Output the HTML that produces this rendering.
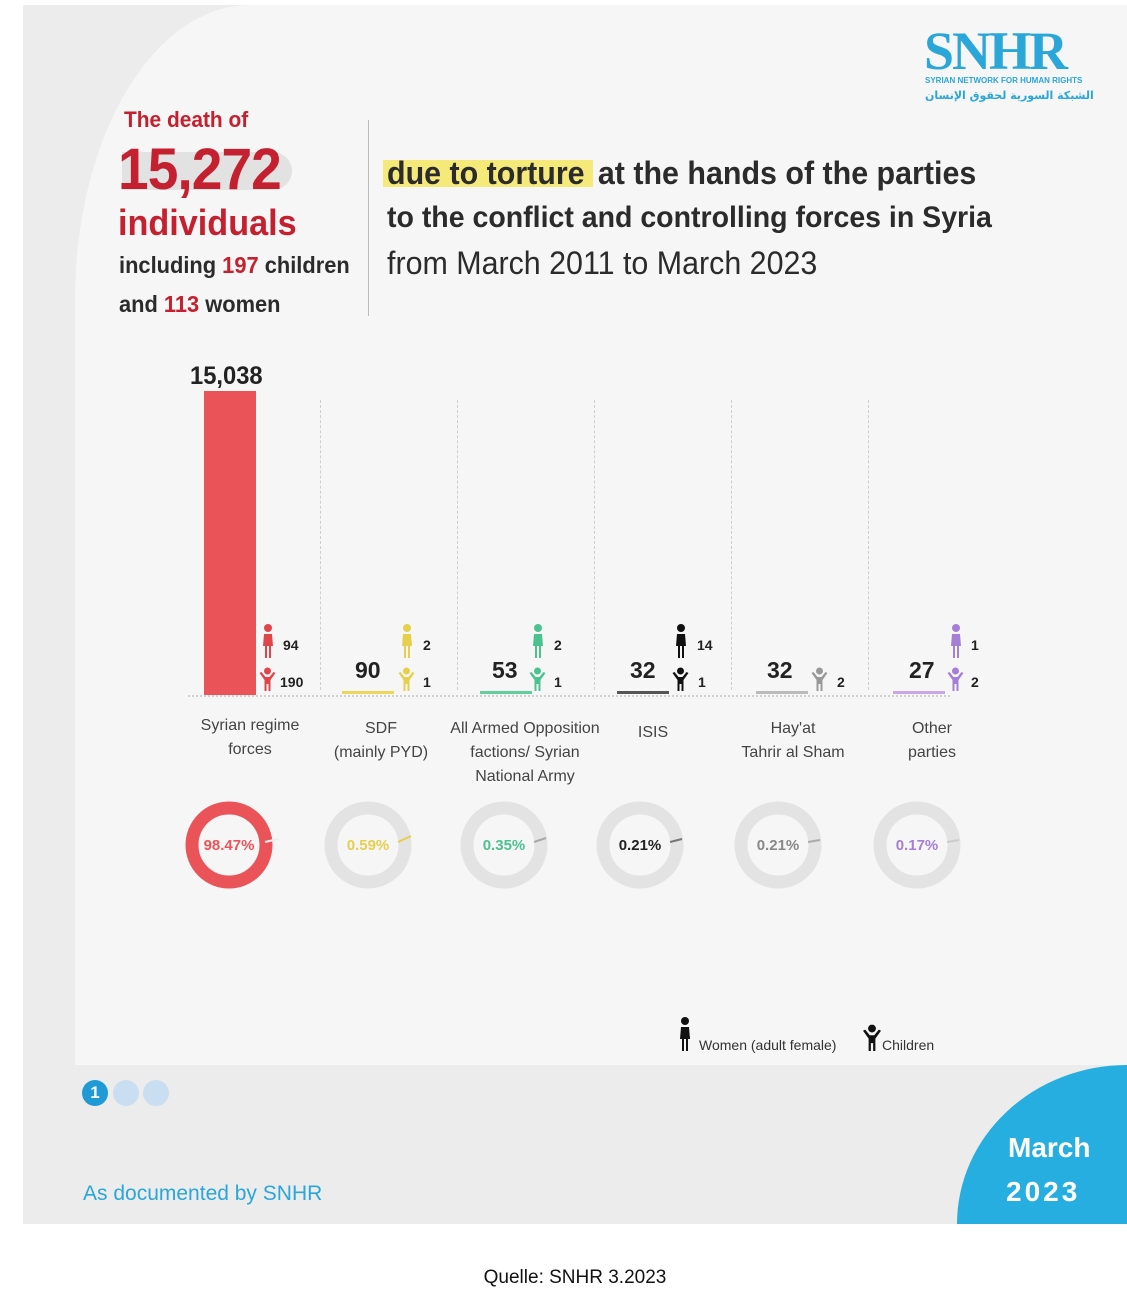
<!DOCTYPE html>
<html><head><meta charset="utf-8"><style>
body{margin:0;width:1127px;height:1293px;background:#fff;position:relative;overflow:hidden;font-family:"Liberation Sans",sans-serif;}
.a{position:absolute;}
.card{left:23px;top:5px;width:1104px;height:1219px;background:#ececec;}
.inner{left:75px;top:5px;width:1052px;height:1060px;background:#f6f6f6;border-top-left-radius:175px 295px;}
.t{position:absolute;white-space:nowrap;}
.red{color:#c4202f}
.dk{color:#2b2b2b}
.sep{position:absolute;top:400px;height:290px;border-left:1px dashed #cfcfcf;}
.lbl{position:absolute;text-align:center;font-size:16px;color:#444;line-height:24px;width:170px;}
.num{position:absolute;font-size:23px;font-weight:bold;color:#222;}
.sm{position:absolute;font-size:14px;font-weight:bold;color:#222;}
.nar{transform-origin:0 0;transform:scaleX(0.95);}
</style></head><body>
<svg width="0" height="0" style="position:absolute"><defs>
<symbol id="w" viewBox="0 0 12 34"><circle cx="6" cy="4" r="4"/><path d="M2 10h8l1 12h-2v12h-2v-12h-2v12h-2v-12h-2z"/></symbol>
<symbol id="c" viewBox="0 0 16 24"><circle cx="8" cy="4" r="3.5"/><path d="M0 6l2-1 4 5h4l4-5 2 1-5 7v11h-2v-7h-2v7h-2v-11z"/></symbol>
</defs></svg>
<div class="a card"></div>
<div class="a inner"></div>
<div class="a" style="left:957px;top:1065px;width:170px;height:159px;background:#27aee0;border-top-left-radius:170px 159px;"></div>
<div class="t" style="left:1008px;top:1132px;font-size:28px;font-weight:bold;color:#fff">March</div>
<div class="t" style="left:1006px;top:1176px;font-size:28px;font-weight:bold;color:#fff;letter-spacing:3px">2023</div>

<div class="t" style="left:924px;top:20px;font-size:54px;font-weight:bold;color:#2aa6d8;font-family:'Liberation Serif',serif;letter-spacing:-2px">SNHR</div>
<div class="t" style="left:925px;top:76px;font-size:8px;font-weight:bold;color:#2aa6d8">SYRIAN NETWORK FOR HUMAN RIGHTS</div>
<div class="t" style="left:925px;top:89px;font-size:11px;font-weight:bold;color:#2aa6d8;font-family:'DejaVu Sans',sans-serif">الشبكة السورية لحقوق الإنسان</div>

<div class="t red nar" style="left:124px;top:107px;font-size:22px;font-weight:bold">The death of</div>
<div class="a" style="left:122px;top:152px;width:170px;height:38px;background:#e2e2e2;border-radius:0 20px 20px 0"></div>
<div class="t red nar" style="left:118px;top:136px;font-size:58px;font-weight:bold;letter-spacing:-1px">15,272</div>
<div class="t red nar" style="left:118px;top:202px;font-size:36px;font-weight:bold">individuals</div>
<div class="t dk nar" style="left:119px;top:252px;font-size:23px;font-weight:bold">including <span class="red">197</span> children</div>
<div class="t dk nar" style="left:119px;top:291px;font-size:23px;font-weight:bold">and <span class="red">113</span> women</div>
<div class="a" style="left:368px;top:120px;width:1px;height:196px;background:#bbb"></div>
<div class="a" style="left:383px;top:160px;width:210px;height:27px;background:#f5e97a"></div>
<div class="t dk nar" style="left:387px;top:155px;font-size:32px;font-weight:bold">due to torture<span style="margin-left:14px">at the hands of the parties</span></div>
<div class="t dk nar" style="left:387px;top:201px;font-size:30px;font-weight:bold">to the conflict and controlling forces in Syria</div>
<div class="t dk nar" style="left:387px;top:245px;font-size:32px">from March 2011 to March 2023</div>

<div class="sep" style="left:320px"></div><div class="sep" style="left:457px"></div><div class="sep" style="left:594px"></div><div class="sep" style="left:731px"></div><div class="sep" style="left:868px"></div>
<div class="a" style="left:188px;top:695px;width:762px;border-top:2px dotted #d0d0d0"></div>

<div class="t nar" style="left:190px;top:362px;font-size:25px;font-weight:bold;color:#222">15,038</div>
<div class="a" style="left:204px;top:391px;width:52px;height:304px;background:#ea5459"></div>

<svg class="a" style="left:0;top:0" width="1127" height="1293">
<g fill="#e0454b"><use href="#w" x="262" y="624" width="12" height="34"/><use href="#c" x="259" y="667" width="17" height="24"/></g>
<g fill="#e5cf4d"><use href="#w" x="401" y="624" width="12" height="34"/><use href="#c" x="398" y="667" width="17" height="24"/></g>
<g fill="#4cc290"><use href="#w" x="532" y="624" width="12" height="34"/><use href="#c" x="529" y="667" width="17" height="24"/></g>
<g fill="#111"><use href="#w" x="675" y="624" width="12" height="34"/><use href="#c" x="672" y="667" width="17" height="24"/></g>
<g fill="#999"><use href="#c" x="811" y="667" width="17" height="24"/></g>
<g fill="#a57fd6"><use href="#w" x="950" y="624" width="12" height="34"/><use href="#c" x="947" y="667" width="17" height="24"/></g>
<g fill="#111"><use href="#w" x="679" y="1016" width="12" height="36"/><use href="#c" x="863" y="1024" width="18" height="27"/></g>
<g fill="none" stroke-width="13">
<circle cx="229" cy="845" r="37" stroke="#ea5459"/>
<circle cx="368" cy="845" r="37" stroke="#e3e3e3"/>
<circle cx="504" cy="845" r="37" stroke="#e3e3e3"/>
<circle cx="640" cy="845" r="37" stroke="#e3e3e3"/>
<circle cx="778" cy="845" r="37" stroke="#e3e3e3"/>
<circle cx="917" cy="845" r="37" stroke="#e3e3e3"/>
</g>
<g stroke-width="2">
<line x1="265" y1="842" x2="278" y2="839" stroke="#eee"/>
<line x1="398" y1="842" x2="411" y2="836" stroke="#e5cf4d"/>
<line x1="534" y1="842" x2="546" y2="838" stroke="#aaa"/>
<line x1="670" y1="842" x2="682" y2="839" stroke="#777"/>
<line x1="808" y1="842" x2="820" y2="840" stroke="#aaa"/>
<line x1="947" y1="842" x2="959" y2="840" stroke="#ccc"/>
</g>
<g font-family="Liberation Sans" font-size="15" font-weight="bold" text-anchor="middle">
<text x="229" y="850" fill="#ea5459">98.47%</text>
<text x="368" y="850" fill="#e5cf4d">0.59%</text>
<text x="504" y="850" fill="#4cc290">0.35%</text>
<text x="640" y="850" fill="#222">0.21%</text>
<text x="778" y="850" fill="#888">0.21%</text>
<text x="917" y="850" fill="#a57fd6">0.17%</text>
</g>
</svg>

<div class="sm" style="left:283px;top:637px">94</div>
<div class="sm" style="left:280px;top:674px">190</div>
<div class="a" style="left:342px;top:691px;width:52px;height:3px;background:#ecd75a"></div>
<div class="num" style="left:355px;top:657px">90</div>
<div class="sm" style="left:423px;top:637px">2</div><div class="sm" style="left:423px;top:674px">1</div>
<div class="a" style="left:480px;top:691px;width:52px;height:3px;background:#5fcf9b"></div>
<div class="num" style="left:492px;top:657px">53</div>
<div class="sm" style="left:554px;top:637px">2</div><div class="sm" style="left:554px;top:674px">1</div>
<div class="a" style="left:617px;top:691px;width:52px;height:3px;background:#555"></div>
<div class="num" style="left:630px;top:657px">32</div>
<div class="sm" style="left:697px;top:637px">14</div><div class="sm" style="left:698px;top:674px">1</div>
<div class="a" style="left:756px;top:691px;width:52px;height:3px;background:#bbb"></div>
<div class="num" style="left:767px;top:657px">32</div>
<div class="sm" style="left:837px;top:674px">2</div>
<div class="a" style="left:893px;top:691px;width:52px;height:3px;background:#c9a6e6"></div>
<div class="num" style="left:909px;top:657px">27</div>
<div class="sm" style="left:971px;top:637px">1</div><div class="sm" style="left:971px;top:674px">2</div>

<div class="lbl" style="left:165px;top:714px">Syrian regime<br>forces</div>
<div class="lbl" style="left:296px;top:717px">SDF<br>(mainly PYD)</div>
<div class="lbl" style="left:440px;top:717px">All Armed Opposition<br>factions/ Syrian<br>National Army</div>
<div class="lbl" style="left:568px;top:721px">ISIS</div>
<div class="lbl" style="left:708px;top:717px">Hay'at<br>Tahrir al Sham</div>
<div class="lbl" style="left:847px;top:717px">Other<br>parties</div>

<div class="t" style="left:699px;top:1037px;font-size:14px;color:#333">Women (adult female)</div>
<div class="t" style="left:882px;top:1037px;font-size:14px;color:#333">Children</div>

<div class="a" style="left:82px;top:1080px;width:26px;height:26px;border-radius:50%;background:#1f9ad6;color:#fff;font-size:17px;font-weight:bold;text-align:center;line-height:26px">1</div>
<div class="a" style="left:113px;top:1080px;width:26px;height:26px;border-radius:50%;background:#c9def0"></div>
<div class="a" style="left:143px;top:1080px;width:26px;height:26px;border-radius:50%;background:#c9def0"></div>
<div class="t" style="left:83px;top:1182px;font-size:21px;color:#2aa6d8">As documented by SNHR</div>

<div class="t" style="left:0;width:1150px;text-align:center;top:1267px;font-size:19px;color:#111">Quelle: SNHR 3.2023</div>
</body></html>
